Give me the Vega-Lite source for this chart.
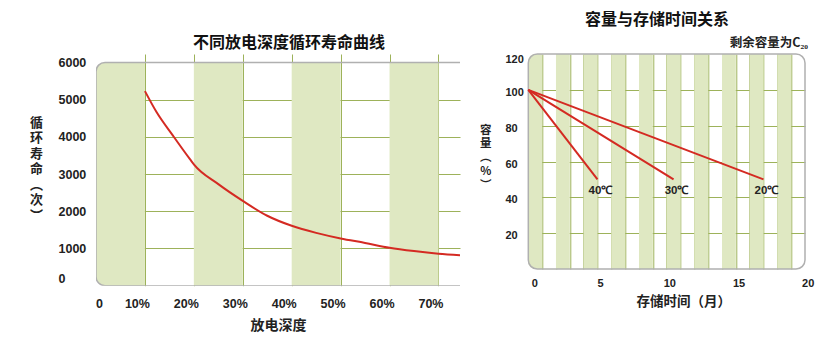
{
  "$schema": "https://vega.github.io/schema/vega-lite/v6.json",
  "background": "white",
  "padding": {"left": 29, "top": 12, "right": 5, "bottom": 5},
  "bounds": "flush",
  "spacing": 68.3,
  "config": {
    "view": {"stroke": null},
    "font": "Noto Sans CJK SC",
    "axis": {
      "grid": true,
      "tickCount": 30,
      "labelOverlap": false,
      "labelFont": "Liberation Sans",
      "labelFontWeight": "bold",
      "labelColor": "#222222",
      "titleFont": "Noto Sans CJK SC",
      "titleFontWeight": "bold",
      "titleColor": "#222222",
      "ticks": false,
      "domain": false,
      "zindex": 1,
      "gridWidth": 1
    },
    "title": {"font": "Noto Sans CJK SC", "fontWeight": "bold", "fontSize": 16, "color": "#111111"}
  },
  "datasets": {
    "depthFirstBand": [{"start": 0, "end": 10}],
    "depthBands": [{"start": 20, "end": 30}, {"start": 40, "end": 50}, {"start": 60, "end": 70}],
    "depthFrame": [{"start": 0, "end": 80, "low": 0, "high": 6000}],
    "cycleLife": [
      {"depth": 10, "cycles": 5230},
      {"depth": 12.4, "cycles": 4660},
      {"depth": 15.8, "cycles": 4020},
      {"depth": 19.2, "cycles": 3400},
      {"depth": 20, "cycles": 3260},
      {"depth": 25, "cycles": 2730},
      {"depth": 30, "cycles": 2280},
      {"depth": 35, "cycles": 1880},
      {"depth": 40, "cycles": 1610},
      {"depth": 45, "cycles": 1420},
      {"depth": 50, "cycles": 1270},
      {"depth": 55, "cycles": 1150},
      {"depth": 60, "cycles": 1020},
      {"depth": 65, "cycles": 930},
      {"depth": 70, "cycles": 860},
      {"depth": 74.4, "cycles": 820}
    ],
    "monthFirstBand": [{"start": 0, "end": 1}],
    "monthBands": [
      {"start": 2, "end": 3}, {"start": 4, "end": 5}, {"start": 6, "end": 7}, {"start": 8, "end": 9},
      {"start": 10, "end": 11}, {"start": 12, "end": 13}, {"start": 14, "end": 15}, {"start": 16, "end": 17},
      {"start": 18, "end": 19}
    ],
    "monthFrame": [{"start": 0, "end": 20, "low": 0, "high": 120}],
    "storage": [
      {"temp": "40℃", "month": 0, "capacity": 100},
      {"temp": "40℃", "month": 5, "capacity": 50},
      {"temp": "30℃", "month": 0, "capacity": 100},
      {"temp": "30℃", "month": 10.5, "capacity": 50},
      {"temp": "20℃", "month": 0, "capacity": 100},
      {"temp": "20℃", "month": 17, "capacity": 50}
    ],
    "note": [{"text": "剩余容量为C₂₀", "month": 20, "capacity": 120}]
  },
  "hconcat": [
    {
      "width": 364,
      "height": 231.7,
      "title": {"text": "不同放电深度循环寿命曲线", "offset": 3, "dx": 11},
      "layer": [
        {
          "data": {"name": "depthFirstBand"},
          "mark": {"type": "rect", "fill": "#dfe8c2", "cornerRadiusTopLeft": 9, "cornerRadiusBottomLeft": 9},
          "encoding": {
            "x": {
              "field": "start", "type": "quantitative",
              "scale": {"domain": [0, 74.4], "nice": false, "zero": false},
              "axis": {
                "values": [0, 10, 20, 30, 40, 50, 60, 70],
                "tickCount": 30,
                "labelExpr": "datum.value == 0 ? '0' : datum.value + '%'",
                "labelFontSize": 12.5,
                "labelFlush": false,
                "labelPadding": 12,
                "labelOffset": {"condition": {"test": "datum.value == 0", "value": 3}, "value": -8},
                "gridColor": {"condition": {"test": "datum.value == 0", "value": "transparent"}, "value": "#9db25a"},
                "title": "放电深度",
                "titleFontSize": 14,
                "titlePadding": 8
              }
            },
            "x2": {"field": "end"},
            "y": {
              "datum": 0, "type": "quantitative",
              "scale": {"domain": [0, 6228], "nice": false, "zero": false},
              "axis": {
                "values": [0, 1000, 2000, 3000, 4000, 5000, 6000],
                "tickCount": 30,
                "format": "d",
                "labelFontSize": 12.5,
                "labelAlign": "left",
                "labelFlush": true,
                "labelPadding": 38,
                "gridColor": {"condition": {"test": "datum.value == 0 || datum.value == 6000", "value": "transparent"}, "value": "#9db25a"},
                "title": ["循", "环", "寿", "命", "︵", "次", "︶"],
                "titleAngle": 0,
                "titleFontSize": 13,
                "titleLineHeight": 15.5,
                "titleAlign": "center",
                "titleBaseline": "middle",
                "titleX": -60,
                "titleY": 68
              }
            },
            "y2": {"datum": 6000}
          }
        },
        {
          "data": {"name": "depthBands"},
          "mark": {"type": "rect", "fill": "#dfe8c2"},
          "encoding": {
            "x": {"field": "start", "type": "quantitative"},
            "x2": {"field": "end"},
            "y": {"datum": 0, "type": "quantitative"},
            "y2": {"datum": 6000}
          }
        },
        {
          "data": {"name": "depthFrame"},
          "mark": {"type": "rect", "fill": "transparent", "stroke": "#b0b0b0", "strokeWidth": 1.5, "clip": true, "cornerRadiusTopLeft": 9, "cornerRadiusBottomLeft": 9},
          "encoding": {
            "x": {"field": "start", "type": "quantitative"},
            "x2": {"field": "end"},
            "y": {"field": "low", "type": "quantitative"},
            "y2": {"field": "high"}
          }
        },
        {
          "data": {"name": "cycleLife"},
          "mark": {"type": "line", "color": "#d42a22", "strokeWidth": 2, "interpolate": "monotone"},
          "encoding": {
            "x": {"field": "depth", "type": "quantitative"},
            "y": {"field": "cycles", "type": "quantitative"}
          }
        }
      ]
    },
    {
      "width": 276.7,
      "height": 215,
      "title": {"text": "容量与存储时间关系", "offset": 9, "dx": -9.6},
      "layer": [
        {
          "data": {"name": "monthFirstBand"},
          "mark": {"type": "rect", "fill": "#dfe8c2", "cornerRadiusTopLeft": 9, "cornerRadiusBottomLeft": 9},
          "encoding": {
            "x": {
              "field": "start", "type": "quantitative",
              "scale": {"domain": [0, 20], "nice": false, "zero": false},
              "axis": {
                "values": [0, 1, 2, 3, 4, 5, 6, 7, 8, 9, 10, 11, 12, 13, 14, 15, 16, 17, 18, 19, 20],
                "tickCount": 30,
                "format": "d",
                "labelExpr": "datum.value % 5 == 0 ? datum.label : ''",
                "labelFontSize": 11,
                "labelFlush": false,
                "labelPadding": 8,
                "labelOffset": {"condition": {"test": "datum.value == 0", "value": 6}, "value": 2.7},
                "gridColor": {"condition": {"test": "datum.value == 0 || datum.value == 20", "value": "transparent"}, "value": "#9db25a"},
                "title": "存储时间（月）",
                "titleFontSize": 13.5,
                "titlePadding": 6,
                "titleX": 155,
                "titleAlign": "center"
              }
            },
            "x2": {"field": "end"},
            "y": {
              "datum": 0, "type": "quantitative",
              "scale": {"domain": [0, 120], "nice": false, "zero": false},
              "axis": {
                "values": [0, 20, 40, 60, 80, 100, 120],
                "tickCount": 30,
                "format": "d",
                "labelExpr": "datum.value == 0 ? '' : datum.label",
                "labelFontSize": 11,
                "labelAlign": "left",
                "labelFlush": false,
                "labelPadding": 23.3,
                "labelOffset": {"condition": {"test": "datum.value == 120", "value": 5}, "value": 2.5},
                "gridColor": {"condition": {"test": "datum.value == 0 || datum.value == 120", "value": "transparent"}, "value": "#9db25a"},
                "title": ["容", "量", "︵", "%", "︶"],
                "titleAngle": 0,
                "titleFontSize": 11.5,
                "titleLineHeight": 13.8,
                "titleAlign": "center",
                "titleBaseline": "middle",
                "titleX": -43,
                "titleY": 76
              }
            },
            "y2": {"datum": 120}
          }
        },
        {
          "data": {"name": "monthBands"},
          "mark": {"type": "rect", "fill": "#dfe8c2"},
          "encoding": {
            "x": {"field": "start", "type": "quantitative"},
            "x2": {"field": "end"},
            "y": {"datum": 0, "type": "quantitative"},
            "y2": {"datum": 120}
          }
        },
        {
          "data": {"name": "monthFrame"},
          "mark": {"type": "rect", "fill": "transparent", "stroke": "#b0b0b0", "strokeWidth": 1.5, "cornerRadius": 9},
          "encoding": {
            "x": {"field": "start", "type": "quantitative"},
            "x2": {"field": "end"},
            "y": {"field": "low", "type": "quantitative"},
            "y2": {"field": "high"}
          }
        },
        {
          "data": {"name": "storage"},
          "mark": {"type": "line", "color": "#d42a22", "strokeWidth": 2},
          "encoding": {
            "x": {"field": "month", "type": "quantitative"},
            "y": {"field": "capacity", "type": "quantitative"},
            "detail": {"field": "temp"}
          }
        },
        {
          "data": {"name": "storage"},
          "transform": [{"filter": "datum.month > 0"}],
          "mark": {"type": "text", "font": "Liberation Sans", "fontWeight": "bold", "fontSize": 11.5, "color": "#222222", "dx": 3, "dy": 12, "align": "center", "baseline": "middle"},
          "encoding": {
            "x": {"field": "month", "type": "quantitative"},
            "y": {"field": "capacity", "type": "quantitative"},
            "text": {"field": "temp"}
          }
        },
        {
          "data": {"name": "note"},
          "mark": {"type": "text", "font": "Noto Sans CJK SC", "fontWeight": "bold", "fontSize": 12.5, "color": "#222222", "dx": 3, "dy": -4, "align": "right", "baseline": "bottom"},
          "encoding": {
            "x": {"field": "month", "type": "quantitative"},
            "y": {"field": "capacity", "type": "quantitative"},
            "text": {"field": "text"}
          }
        }
      ]
    }
  ]
}
